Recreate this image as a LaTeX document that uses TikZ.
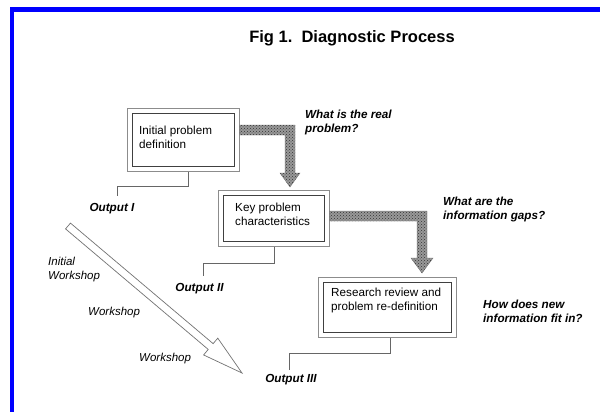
\documentclass[tikz,border=0pt]{standalone}
\usepackage{fontspec}
\setmainfont{Liberation Sans}
\usetikzlibrary{calc, fit, patterns}

\begin{document}
\begin{tikzpicture}[x=1pt, y=-1pt,
  boxtext/.style={font=\fontsize{11.7}{14}\selectfont, align=left, anchor=base west, inner sep=0pt},
  question/.style={font=\fontsize{11.7}{13.5}\selectfont\bfseries\itshape, align=left, anchor=base west, inner sep=0pt},
  outlabel/.style={font=\fontsize{11.7}{14}\selectfont\bfseries\itshape, anchor=base, inner sep=0pt},
  workshop/.style={font=\fontsize{11.5}{14}\selectfont\itshape, align=left, anchor=base west, inner sep=0pt},
  innerbox/.style={draw=black!75, line width=0.9pt, anchor=north west, inner sep=0pt},
  outerbox/.style={draw=black!45, line width=0.9pt, inner sep=4.5pt},
  lead/.style={draw=black!60, line width=0.8pt},
  hatch/.style={fill=black!40, postaction={pattern=crosshatch dots, pattern color=black!80}, draw=black!55, line width=0.4pt},
  hollow/.style={draw=black!55, fill=white, line width=0.7pt, line join=miter},
]
  \useasboundingbox (0,0) rectangle (600,412);
  \draw[blue, line width=4.5pt] (12,412) -- (12,9.5) -- (600,9.5);

  \node[font=\fontsize{16.5}{19}\selectfont\bfseries, anchor=base] (title) at (352,43) {Fig 1.\ \ Diagnostic Process};

  % three boxes, each an inner frame with a lighter outer frame
  \node[innerbox, minimum width=102, minimum height=53] (defn) at (132,113) {};
  \node[outerbox, fit=(defn)] (defnframe) {};
  \node[boxtext] (defntext) at (139,148) {Initial problem\\definition};

  \node[innerbox, minimum width=101, minimum height=46] (key) at (223,195) {};
  \node[outerbox, fit=(key)] (keyframe) {};
  \node[boxtext] (keytext) at (235,225) {Key problem\\characteristics};

  \node[innerbox, minimum width=128, minimum height=50] (review) at (323,282) {};
  \node[outerbox, fit=(review)] (reviewframe) {};
  \node[boxtext] (reviewtext) at (331,310) {Research review and\\problem re-definition};

  % questions
  \node[question] (q1) at (305,132) {What is the real\\problem?};
  \node[question] (q2) at (443,219) {What are the\\information gaps?};
  \node[question] (q3) at (483,322) {How does new\\information fit in?};

  % outputs
  \node[outlabel] (out1) at (112,211) {Output I};
  \node[outlabel] (out2) at (199.5,291) {Output II};
  \node[outlabel] (out3) at (291,382) {Output III};
  \draw[lead] ([xshift=5]defnframe.south) -- ++(0,15) -| ([xshift=5,yshift=7]out1.north);
  \draw[lead] (keyframe.south) -- ++(0,17) -| ([xshift=3.5,yshift=7]out2.north);
  \draw[lead] ([xshift=2.5]reviewframe.south) -- ++(0,16) -| ([xshift=-2,yshift=4]out3.north);

  % hatched arrows between the boxes
  \filldraw[hatch] (defnframe.east |- 0,125) -- (295,125) -- (295,173) -- (300,173) -- (290,187)
    -- (280,173) -- (285,173) -- (285,135) -- (defnframe.east |- 0,135) -- cycle;
  \filldraw[hatch] (keyframe.east |- 0,211) -- (427,211) -- (427,258) -- (433,258) -- (422,273)
    -- (411,258) -- (417,258) -- (417,221) -- (keyframe.east |- 0,221) -- cycle;

  % workshop arrow
  \coordinate (wtail) at (68,226);
  \coordinate (wtip) at (242,373);
  \coordinate (wneck) at ($(wtail)!0.82!(wtip)$);
  \filldraw[hollow] ($(wtail)!3.8pt!90:(wtip)$) -- ($(wneck)!3.8pt!90:(wtip)$) -- ($(wneck)!11pt!90:(wtip)$)
    -- (wtip) -- ($(wneck)!11pt!-90:(wtip)$) -- ($(wneck)!3.8pt!-90:(wtip)$) -- ($(wtail)!3.8pt!-90:(wtip)$) -- cycle;
  \node[workshop] (ws1) at (48,279) {Initial\\Workshop};
  \node[workshop] (ws2) at (88,315) {Workshop};
  \node[workshop] (ws3) at (139,361) {Workshop};
\end{tikzpicture}
\end{document}
